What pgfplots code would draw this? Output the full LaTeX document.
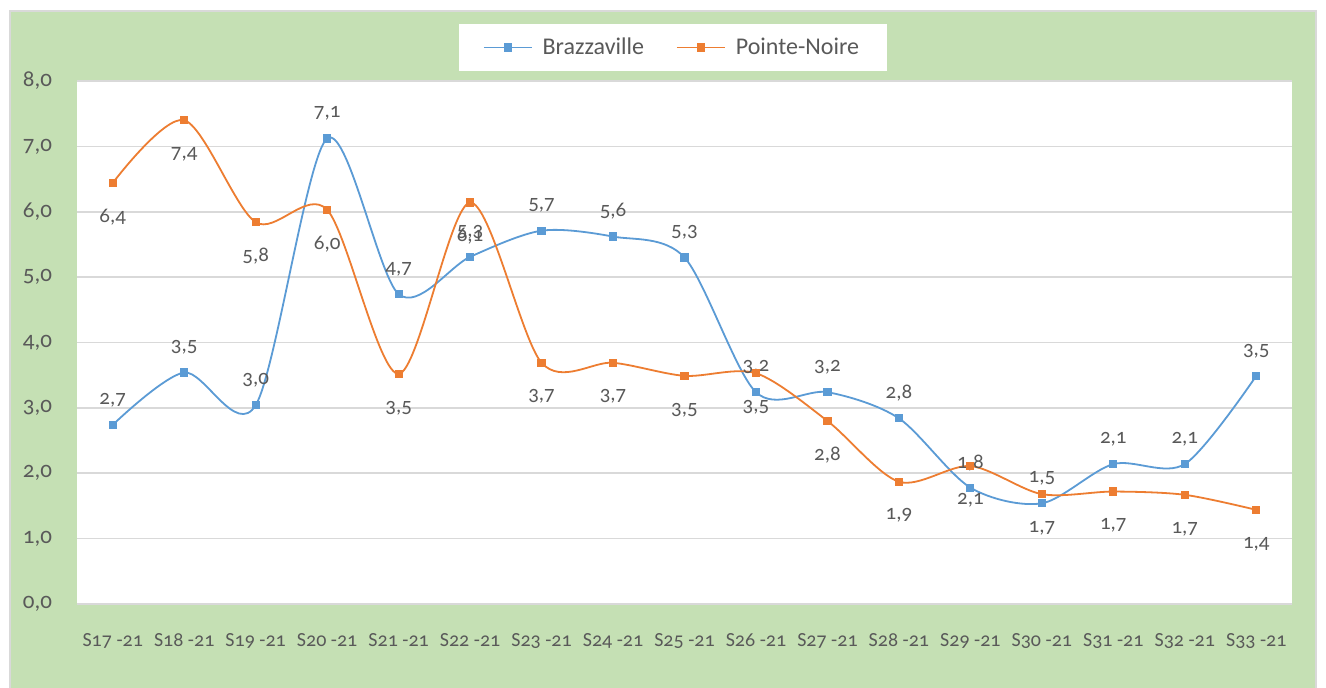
\documentclass[border=0pt]{standalone}
\usepackage{fontspec}
\setmainfont{Carlito}[Numbers=OldStyle]
\usepackage{pgfplots}
\pgfplotsset{compat=1.18}
\definecolor{bg}{HTML}{C5E0B4}
\definecolor{bz}{HTML}{5B9BD5}
\definecolor{pn}{HTML}{ED7D31}
\definecolor{txt}{HTML}{595959}
\definecolor{grd}{HTML}{D9D9D9}
\begin{document}
\begin{tikzpicture}[x=1pt,y=1pt]
\useasboundingbox (0,0) rectangle (663,344);
\fill[white] (0,0) rectangle (663,344);
\filldraw[fill=bg, draw=grd, line width=0.6pt] (5,-2) rectangle (658,338.5);
\fill[white] (38.5,42) rectangle (646,303.5);
\begin{axis}[
  at={(38.5pt,42pt)}, anchor=south west,
  width=607.5pt, height=261.5pt, scale only axis,
  xmin=-0.5, xmax=16.5, ymin=0, ymax=8,
  axis line style={draw=none},
  major tick length=0pt,
  ymajorgrids, grid style={grd, line width=0.8pt},
  xtick={0,...,16},
  xticklabels={S17 -21,S18 -21,S19 -21,S20 -21,S21 -21,S22 -21,S23 -21,S24 -21,S25 -21,S26 -21,S27 -21,S28 -21,S29 -21,S30 -21,S31 -21,S32 -21,S33 -21},
  ytick={0,...,8},
  x tick label style={font=\fontsize{10}{12}\selectfont, text=txt, yshift=-11pt},
  y tick label style={font=\fontsize{11.5}{13}\selectfont, text=txt, xshift=-9pt,
     /pgf/number format/.cd, use comma, fixed, fixed zerofill, precision=1, assume math mode=true},
  nodes near coords={\pgfmathprintnumber[use comma, fixed, fixed zerofill, precision=1, assume math mode=true]{\pgfplotspointmeta}},
  legend style={at={(0.4905,1.064)}, anchor=center, draw=none, fill=white,
     font=\fontsize{12}{14}\selectfont, text=txt, inner xsep=12pt, inner ysep=5pt,
     /tikz/every odd column/.append style={column sep=3pt},
     /tikz/every even column/.append style={column sep=14pt}},
  legend columns=2,
  legend image code/.code={\draw[#1] (0pt,0pt) -- (12pt,0pt) plot coordinates {(12pt,0pt)} -- (24pt,0pt);},
]
\addplot[bz, line width=0.9pt, smooth, tension=0.5, mark=square*, mark size=1.6pt, mark options={solid},
  point meta=y,
  every node near coord/.append style={font=\fontsize{10.5}{12}\selectfont, text=txt, anchor=center, yshift=12.5pt}]
  coordinates {(0,2.74)(1,3.54)(2,3.04)(3,7.12)(4,4.74)(5,5.31)(6,5.71)(7,5.62)(8,5.30)(9,3.24)(10,3.24)(11,2.84)(12,1.78)(13,1.54)(14,2.14)(15,2.14)(16,3.49)};
\addlegendentry{Brazzaville}
\addplot[pn, line width=0.9pt, smooth, tension=0.5, mark=square*, mark size=1.6pt, mark options={solid},
  point meta=y,
  every node near coord/.append style={font=\fontsize{10.5}{12}\selectfont, text=txt, anchor=center, yshift=-17pt}]
  coordinates {(0,6.44)(1,7.40)(2,5.84)(3,6.03)(4,3.52)(5,6.14)(6,3.69)(7,3.69)(8,3.49)(9,3.53)(10,2.80)(11,1.87)(12,2.11)(13,1.68)(14,1.72)(15,1.67)(16,1.44)};
\addlegendentry{Pointe-Noire}
\end{axis}
\end{tikzpicture}
\end{document}
